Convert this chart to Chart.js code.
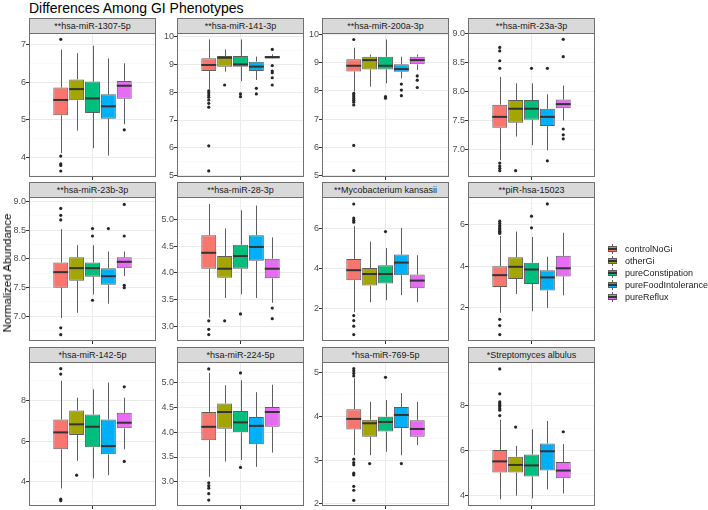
<!DOCTYPE html>
<html>
<head>
<meta charset="utf-8">
<script src="https://cdn.jsdelivr.net/npm/chart.js@4.4.1/dist/chart.umd.min.js"></script>
<style>
  body { margin: 0; width: 708px; height: 510px; position: relative; overflow: hidden; background: #fff;
         font-family: "Liberation Sans", Arial, sans-serif; }
  #title { position: absolute; left: 29px; top: 0px; font-size: 14px; line-height: 16px; color: #000; white-space: nowrap; }
  #ylab { position: absolute; left: 6.5px; top: 273px; transform: translate(-50%, -50%) rotate(-90deg);
          font-size: 11.5px; color: #000; white-space: nowrap; z-index: 2; }
  .strip { position: absolute; box-sizing: border-box; height: 16px; background: #D9D9D9; border: 1px solid #707070;
           font-size: 9px; line-height: 14px; color: #1a1a1a; text-align: center; white-space: nowrap; overflow: hidden; }
  canvas { position: absolute; }
  .leg { position: absolute; left: 608px; height: 12px; font-size: 9px; line-height: 12px; color: #1a1a1a; white-space: nowrap; }
  .leg .wh { position: absolute; left: 4px; top: 1px; width: 1px; height: 10px; background: #5e5e5e; }
  .leg .bx { position: absolute; left: 0; top: 3px; width: 9px; height: 6px; box-sizing: border-box; border: 1px solid #5e5e5e; }
  .leg .md { position: absolute; left: 0; top: 5px; width: 9px; height: 2px; background: #333; }
  .leg span { position: absolute; left: 17px; top: 0; }
</style>
</head>
<body>
<div id="title">Differences Among GI Phenotypes</div>
<div id="ylab">Normalized Abundance</div>

<script>
/* ---- Datos ---- */
const panelTitles = ['**hsa-miR-1307-5p', '**hsa-miR-141-3p', '**hsa-miR-200a-3p', '**hsa-miR-23a-3p',
  '**hsa-miR-23b-3p', '**hsa-miR-28-3p', '**Mycobacterium kansasii', '**piR-hsa-15023',
  '*hsa-miR-142-5p', '*hsa-miR-224-5p', '*hsa-miR-769-5p', '*Streptomyces albulus'];
const groups = ['controlNoGi', 'otherGi', 'pureConstipation', 'pureFoodIntolerance', 'pureReflux'];
const groupColors = ['#F8766D', '#A3A500', '#00BF7D', '#00B0F6', '#E76BF3'];

// rango del eje y y paso de las etiquetas por panel
const yMin  = [3.47, 4.95, 4.95, 6.52, 6.57, 2.72, 0.38, 0.41, 2.78, 2.51, 1.95, 3.54];
const yMax  = [7.32, 10.13, 10.05, 9.01, 9.08, 5.43, 7.58, 7.32, 9.92, 5.42, 5.24, 9.96];
const yStep = [1, 1, 1, 0.5, 0.5, 0.5, 2, 2, 2, 0.5, 1, 2];

// estadísticos de cada caja: [panel][grupo]
const whiskerLow = [
  [4.11, 4.71, 4.24, 4.04, 4.88], [8.1, 8.74, 8.4, 8.44, 9.2], [7.97, 8.15, 8.27, 8.44, 8.74], [6.81, 7.22, 7.07, 6.98, 7.5],
  [6.97, 7.06, 7.38, 7.22, 7.7], [3.16, 3.53, 3.6, 3.53, 3.44], [1.82, 2.32, 2.42, 2.67, 2.32], [1.76, 2.67, 1.84, 2.0, 2.6],
  [3.65, 5.02, 4.15, 4.31, 5.59], [3.1, 3.41, 3.44, 3.3, 3.59], [3.11, 3.11, 3.19, 3.11, 3.34], [3.84, 4.0, 3.88, 4.28, 4.1]
];
const lowerQuartile = [
  [5.12, 5.52, 5.18, 5.03, 5.56], [8.76, 8.92, 8.92, 8.76, 9.21], [8.69, 8.76, 8.76, 8.68, 8.94], [7.37, 7.46, 7.51, 7.4, 7.71],
  [7.5, 7.62, 7.69, 7.55, 7.84], [4.08, 3.91, 4.08, 4.23, 3.9], [3.42, 3.15, 3.25, 3.67, 3.02], [3.0, 3.39, 3.15, 2.83, 3.5],
  [5.59, 6.3, 5.69, 5.34, 6.63], [3.84, 4.07, 4.0, 3.76, 4.11], [3.7, 3.53, 3.65, 3.73, 3.53], [5.03, 5.03, 4.85, 5.12, 4.78]
];
const medians = [
  [5.53, 5.82, 5.57, 5.36, 5.91], [8.98, 9.24, 9.0, 8.92, 9.26], [8.89, 9.09, 8.89, 8.77, 9.09], [7.56, 7.7, 7.7, 7.56, 7.78],
  [7.77, 7.84, 7.84, 7.7, 7.95], [4.38, 4.08, 4.32, 4.49, 4.08], [3.92, 3.73, 3.73, 4.3, 3.4], [3.57, 3.97, 3.84, 3.46, 3.9],
  [6.43, 6.83, 6.71, 5.75, 6.91], [4.11, 4.41, 4.2, 4.13, 4.41], [3.94, 3.84, 3.87, 4.03, 3.71], [5.53, 5.37, 5.35, 5.98, 5.12]
];
const upperQuartile = [
  [5.86, 6.08, 6.02, 5.68, 6.04], [9.22, 9.3, 9.3, 9.1, 9.3], [9.12, 9.21, 9.21, 8.94, 9.21], [7.77, 7.85, 7.85, 7.7, 7.86],
  [7.94, 8.03, 7.94, 7.84, 8.03], [4.71, 4.32, 4.53, 4.71, 4.27], [4.48, 4.03, 4.17, 4.7, 3.7], [4.0, 4.43, 4.16, 3.81, 4.5],
  [7.07, 7.52, 7.32, 7.07, 7.4], [4.41, 4.58, 4.43, 4.31, 4.51], [4.16, 3.92, 3.99, 4.21, 3.91], [6.04, 5.74, 5.84, 6.33, 5.5]
];
const whiskerHigh = [
  [6.88, 6.78, 6.98, 6.64, 6.51], [9.9, 9.54, 9.9, 9.28, 9.36], [9.53, 9.29, 9.82, 9.21, 9.29], [8.25, 8.14, 8.14, 7.95, 8.1],
  [8.52, 8.24, 8.24, 8.13, 8.13], [5.3, 4.84, 5.18, 5.27, 4.67], [6.12, 5.35, 5.03, 6.03, 4.67], [5.45, 5.66, 5.4, 4.45, 5.6],
  [8.99, 8.15, 8.56, 8.9, 8.15], [5.2, 4.95, 5.05, 4.81, 4.96], [4.87, 4.33, 4.37, 4.53, 4.33], [7.38, 6.22, 6.96, 7.33, 6.3]
];
const outliers = [
  [[7.15, 4.03, 3.82, 3.78, 3.63], [], [], [], [4.73]],
  [[8.05, 7.98, 7.9, 7.82, 7.72, 7.6, 7.46, 6.07, 5.17], [8.26], [7.94, 7.84], [8.14, 7.94], [9.54, 8.96, 8.76, 8.7, 8.52, 8.26]],
  [[9.82, 7.91, 7.85, 7.79, 7.73, 7.67, 7.6, 7.5, 6.07, 5.18], [], [7.8, 7.74], [8.24, 8.03, 7.83], [8.53, 8.38, 8.12]],
  [[8.76, 8.7, 8.53, 8.4, 6.76, 6.71, 6.67, 6.63], [6.63], [8.4], [8.4, 6.8], [8.9, 8.6, 7.35, 7.25, 7.18]],
  [[8.88, 8.76, 8.68, 6.8, 6.68], [], [8.53, 8.4, 7.28], [8.53], [8.95, 8.4, 7.54, 7.5]],
  [[3.1, 2.94, 2.84], [3.1], [3.23], [], [3.34, 3.14]],
  [[7.23, 6.53, 6.42, 6.32, 1.65, 1.4, 1.12, 0.7], [], [5.85], [], []],
  [[6.16, 6.05, 5.95, 5.88, 5.8, 5.74, 5.68, 5.62, 5.57, 1.45, 1.15, 0.72], [], [6.4, 5.84], [6.99], []],
  [[9.59, 9.32, 3.12, 3.04], [4.31], [], [], [8.69, 4.99]],
  [[5.28, 2.98, 2.92, 2.87, 2.76, 2.63], [], [5.2, 3.29], [], []],
  [[5.09, 5.04, 4.98, 4.92, 3.02, 2.94, 2.89, 2.7, 2.66, 2.4, 2.31, 2.08], [2.92], [4.89], [2.92], []],
  [[9.65, 8.54, 8.18, 8.1, 8.03, 7.96, 7.88, 7.81, 7.57], [7.06], [], [], [6.85]]
];

/* ---- Disposición de los paneles ---- */
const colLeft = [29, 177, 322, 468];
const rowTop  = [33, 197, 362];
const PW = 127, PH = 144;
const FONT = '"Liberation Sans", Arial, sans-serif';
const BORDER = '#707070';

function isMajor(v, step) {
  const k = v / step;
  return Math.abs(k - Math.round(k)) < 1e-6;
}

/* ---- Bigotes, medianas y atípicos ---- */
const boxplotPlugin = {
  id: 'boxplot',
  beforeDatasetsDraw(chart, args, opts) {
    const p = opts.panel, y = chart.scales.y, ctx = chart.ctx;
    ctx.save();
    ctx.strokeStyle = '#5e5e5e';
    ctx.lineWidth = 1;
    groups.forEach((g, i) => {
      const bar = chart.getDatasetMeta(i).data[0];
      const x = Math.round(bar.x) + 0.5;
      ctx.beginPath();
      ctx.moveTo(x, y.getPixelForValue(whiskerLow[p][i]));
      ctx.lineTo(x, y.getPixelForValue(lowerQuartile[p][i]));
      ctx.moveTo(x, y.getPixelForValue(upperQuartile[p][i]));
      ctx.lineTo(x, y.getPixelForValue(whiskerHigh[p][i]));
      ctx.stroke();
    });
    ctx.restore();
  },
  afterDatasetsDraw(chart, args, opts) {
    const p = opts.panel, y = chart.scales.y, ctx = chart.ctx;
    ctx.save();
    groups.forEach((g, i) => {
      const bar = chart.getDatasetMeta(i).data[0];
      const half = bar.width / 2;
      ctx.strokeStyle = '#333';
      ctx.lineWidth = 2;
      const ym = y.getPixelForValue(medians[p][i]);
      ctx.beginPath();
      ctx.moveTo(bar.x - half, ym);
      ctx.lineTo(bar.x + half, ym);
      ctx.stroke();
      ctx.fillStyle = '#262626';
      outliers[p][i].forEach(v => {
        ctx.beginPath();
        ctx.arc(bar.x, y.getPixelForValue(v), 1.6, 0, Math.PI * 2);
        ctx.fill();
      });
    });
    ctx.restore();
  },
  afterDraw(chart) {
    const a = chart.chartArea, ctx = chart.ctx;
    ctx.save();
    ctx.strokeStyle = BORDER;
    ctx.lineWidth = 1;
    ctx.strokeRect(a.left + 0.5, a.top + 0.5, a.width - 1, a.height - 1);
    ctx.restore();
  }
};

function buildPanel(p) {
  const col = p % 4, row = Math.floor(p / 4);
  const left = colLeft[col], top = rowTop[row];
  const step = yStep[p];

  const strip = document.createElement('div');
  strip.className = 'strip';
  strip.style.left = left + 'px';
  strip.style.top = (top - 15) + 'px';
  strip.style.width = PW + 'px';
  strip.textContent = panelTitles[p];
  document.body.appendChild(strip);

  const cv = document.createElement('canvas');
  cv.width = 22 + PW + 4;
  cv.height = PH + 20;
  document.body.appendChild(cv);

  const chart = new Chart(cv, {
    type: 'bar',
    data: {
      labels: [''],
      datasets: groups.map((g, i) => ({
        label: g,
        data: [[lowerQuartile[p][i], upperQuartile[p][i]]],
        backgroundColor: groupColors[i],
        borderColor: '#5e5e5e',
        borderWidth: 1,
        borderSkipped: false,
        categoryPercentage: 0.625,
        barPercentage: 0.94,
      })),
    },
    options: {
      responsive: false,
      animation: false,
      layout: { padding: { top: 10, bottom: 6, left: 0, right: 4 } },
      plugins: {
        legend: { display: false },
        tooltip: { enabled: false },
        boxplot: { panel: p },
      },
      scales: {
        x: {
          type: 'category',
          offset: true,
          grid: { offset: false, color: '#EBEBEB', lineWidth: 1, drawTicks: true, tickLength: 3, tickColor: '#333', tickWidth: 1 },
          border: { display: false },
          ticks: { display: false },
          afterFit: s => { s.height = 4; },
        },
        y: {
          min: yMin[p],
          max: yMax[p],
          grid: {
            color: c => isMajor(c.tick.value, step) ? '#EBEBEB' : '#F5F5F5',
            lineWidth: c => isMajor(c.tick.value, step) ? 1 : 0.6,
            tickLength: 3,
            tickWidth: 1,
            tickColor: c => isMajor(c.tick.value, step) ? '#333' : 'rgba(0,0,0,0)',
          },
          border: { display: false },
          ticks: {
            stepSize: step / 2,
            includeBounds: false,
            autoSkip: false,
            padding: 0,
            color: '#4D4D4D',
            font: { family: FONT, size: 9 },
            callback: v => isMajor(v, step) ? (step < 1 ? v.toFixed(1) : String(Math.round(v))) : '',
          },
          afterFit: s => { s.width = 22; },
        },
      },
    },
    plugins: [boxplotPlugin],
  });

  // alinear el área del gráfico con el panel
  const a = chart.chartArea;
  cv.style.left = (left - a.left) + 'px';
  cv.style.top = (top - a.top) + 'px';
}

panelTitles.forEach((t, p) => buildPanel(p));

/* ---- Leyenda ---- */
const legendY = [243, 255, 267, 279, 291];
groups.forEach((g, i) => {
  const el = document.createElement('div');
  el.className = 'leg';
  el.style.top = legendY[i] + 'px';
  el.innerHTML = `<div class="wh"></div><div class="bx" style="background:${groupColors[i]}"></div><div class="md"></div><span>${g}</span>`;
  document.body.appendChild(el);
});
</script>
</body>
</html>
